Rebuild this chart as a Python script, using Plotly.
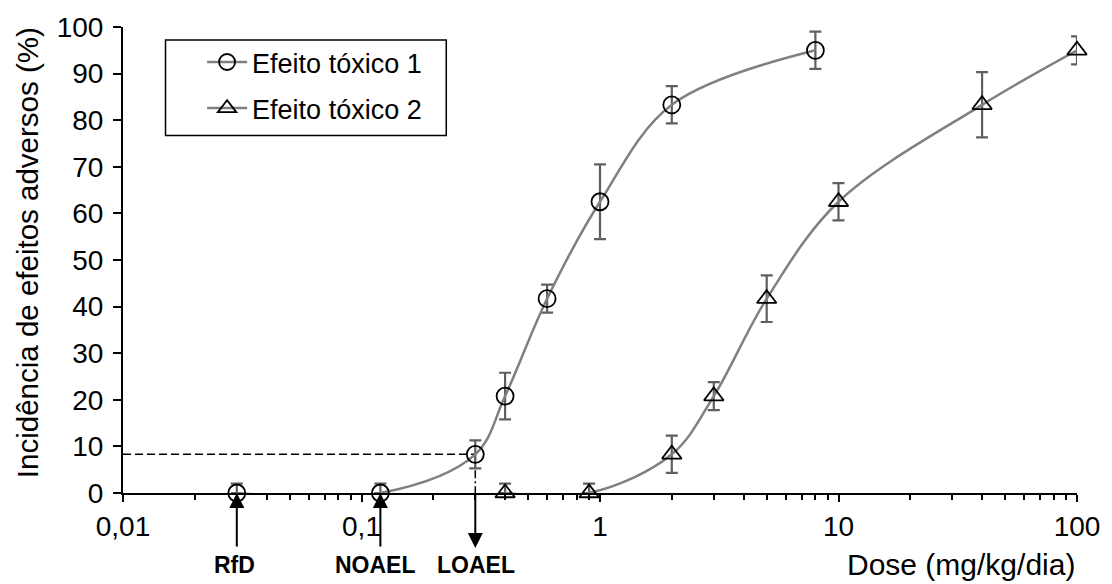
import math
import plotly.graph_objects as go

# ---------------- data ----------------
dose1 = [0.03, 0.12, 0.3, 0.4, 0.6, 1, 2, 8]
inc1 = [0, 0, 8.3, 20.8, 41.7, 62.5, 83.3, 95]
err1_plus = [2, 2, 3, 5, 3, 8, 4, 4]
err1_minus = [0, 0, 3, 5, 3, 8, 4, 4]

dose2 = [0.4, 0.9, 2, 3, 5, 10, 40, 100]
inc2 = [0, 0, 8.3, 20.8, 41.7, 62.5, 83.3, 95]
err2_plus = [2, 2, 4, 3, 5, 4, 7, 3]
err2_minus = [0, 0, 4, 3, 5, 4, 7, 3]

x_tickvals = [0.01, 0.1, 1, 10, 100]
x_ticktext = ["0,01", "0,1", "1", "10", "100"]
y_tickvals = [0, 10, 20, 30, 40, 50, 60, 70, 80, 90, 100]

series_names = ["Efeito tóxico 1", "Efeito tóxico 2"]
rfd_dose = 0.03
noael_dose = 0.12
loael_dose = 0.3
loael_inc = 8.3

# ---------------- styling ----------------
FONT = "Arial, Liberation Sans, sans-serif"
CURVE = "#808080"
ERR = "#5f5f5f"
W, H = 1112, 584
ML, MR, MT, MB = 123, 24, 25, 91
PW = W - ML - MR
PH = H - MT - MB


def px_to_paper_x(px):
    return (px - ML) / PW


def px_to_paper_y(py):
    return (H - MB - py) / PH


fig = go.Figure()

# dashed guide lines (LOAEL)
fig.add_trace(go.Scatter(
    x=[0.01, loael_dose], y=[loael_inc, loael_inc], mode="lines",
    line=dict(color="black", width=1.5, dash="8px,4px"),
    showlegend=False, hoverinfo="skip"))
fig.add_trace(go.Scatter(
    x=[loael_dose, loael_dose], y=[loael_inc, 0], mode="lines",
    line=dict(color="black", width=1.5, dash="8px,3px,2px,3px"),
    showlegend=False, hoverinfo="skip"))

minor_vals = [m * 10 ** e for e in range(-2, 2) for m in range(2, 10)]

fig.add_trace(go.Scatter(
    x=dose1, y=inc1, mode="lines+markers", name=series_names[0],
    legendgroup="a",
    line=dict(color=CURVE, width=2.5, shape="spline", smoothing=1),
    marker=dict(symbol="circle-open", size=17, color="black",
                line=dict(color="black", width=1.8)),
    error_y=dict(type="data", symmetric=False, array=err1_plus,
                 arrayminus=err1_minus, color=ERR, thickness=2.2, width=6),
    cliponaxis=False))

fig.add_trace(go.Scatter(
    x=dose2, y=inc2, mode="lines+markers", name=series_names[1],
    legendgroup="b",
    line=dict(color=CURVE, width=2.5, shape="spline", smoothing=1),
    marker=dict(symbol="triangle-up-open", size=17, color="black",
                line=dict(color="black", width=1.8)),
    error_y=dict(type="data", symmetric=False, array=err2_plus,
                 arrayminus=err2_minus, color=ERR, thickness=2.2, width=6),
    cliponaxis=False))

annotations = []
# up arrows (RfD, NOAEL)
for d in (rfd_dose, noael_dose):
    annotations.append(dict(
        x=math.log10(d), y=0, xref="x", yref="y", ax=0, ay=55,
        showarrow=True, arrowhead=2, arrowsize=1.5, arrowwidth=2,
        arrowcolor="black", text="", standoff=0))
# down arrow (LOAEL)
annotations.append(dict(
    x=math.log10(loael_dose), y=0, xref="x", yref="y", ax=0, ay=-55,
    yshift=-55, showarrow=True, arrowhead=2, arrowsize=1.5, arrowwidth=2,
    arrowcolor="black", text="", standoff=0))

label_y = px_to_paper_y(565)
for d, txt, xs in ((rfd_dose, "RfD", -2), (noael_dose, "NOAEL", -5),
                   (loael_dose, "LOAEL", 1)):
    annotations.append(dict(
        x=math.log10(d), y=label_y, xref="x", yref="paper",
        text="<b>%s</b>" % txt, showarrow=False, xshift=xs,
        xanchor="center", yanchor="middle",
        font=dict(family=FONT, size=23, color="black")))

# axis titles
annotations.append(dict(
    x=1.0, y=px_to_paper_y(565), xref="paper", yref="paper",
    text="Dose (mg/kg/dia)", showarrow=False, xanchor="right",
    yanchor="middle", font=dict(family=FONT, size=30, color="black")))
annotations.append(dict(
    x=px_to_paper_x(26), y=px_to_paper_y(252), xref="paper", yref="paper",
    text="Incidência de efeitos adversos (%)", showarrow=False,
    textangle=-90, xanchor="center", yanchor="middle",
    font=dict(family=FONT, size=29.5, color="black")))

shapes = [dict(
    type="rect", xref="paper", yref="paper",
    x0=px_to_paper_x(166), x1=px_to_paper_x(450),
    y0=px_to_paper_y(134), y1=px_to_paper_y(38),
    line=dict(color="black", width=1.5), fillcolor="white", layer="below")]

fig.update_layout(
    width=W, height=H,
    margin=dict(l=ML, r=MR, t=MT, b=MB),
    paper_bgcolor="white", plot_bgcolor="white",
    font=dict(family=FONT, size=27, color="black"),
    showlegend=True,
    legend=dict(
        x=px_to_paper_x(203), y=px_to_paper_y(36), xanchor="left",
        yanchor="top", bgcolor="rgba(0,0,0,0)", borderwidth=0,
        font=dict(family=FONT, size=27, color="black"),
        traceorder="grouped", tracegroupgap=8, itemwidth=40),
    xaxis=dict(
        type="log", range=[-2, 2], showgrid=False, zeroline=False,
        showline=True, linecolor="black", linewidth=2,
        ticks="outside", ticklen=7, tickwidth=1.5, tickcolor="black",
        tickmode="array", tickvals=x_tickvals, ticktext=x_ticktext,
        tickfont=dict(family=FONT, size=28, color="black"),
        layer="below traces",
        minor=dict(tickmode="array", tickvals=minor_vals, ticks="outside",
                   ticklen=5, tickwidth=1.5, tickcolor="black",
                   showgrid=False)),
    yaxis=dict(
        range=[0, 100], showgrid=False, zeroline=False,
        showline=True, linecolor="black", linewidth=2,
        ticks="outside", ticklen=8, tickwidth=1.5, tickcolor="black",
        tickmode="array", tickvals=y_tickvals, ticklabelstandoff=4,
        tickfont=dict(family=FONT, size=28, color="black"),
        layer="below traces"),
    annotations=annotations,
    shapes=shapes,
)

fig.write_html("out.html")
